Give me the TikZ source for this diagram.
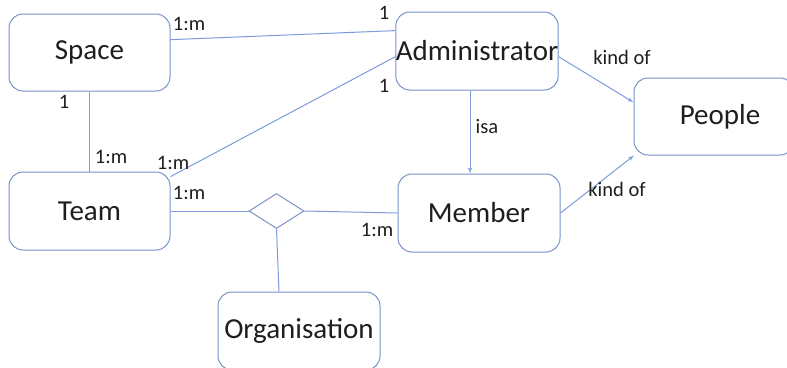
\documentclass[tikz,border=0pt]{standalone}
\usepackage{fontspec}
\setmainfont{Carlito}
\usepackage{xcolor}
\usepackage{tikz}
\usetikzlibrary{arrows}
\usetikzlibrary{shapes.geometric}
\definecolor{boxblue}{RGB}{122,146,201}
\definecolor{lineblue}{RGB}{125,155,220}
\definecolor{inktext}{RGB}{30,30,30}
\tikzset{arrowed/.style = {->,> = latex'}}

\begin{document}
\begin{tikzpicture}[x=1pt,y=-1pt,line width=1pt,
    entity/.style={rectangle,rounded corners=14pt,draw=boxblue,minimum width=161pt,minimum height=77pt,
        text=inktext,font=\fontsize{29}{34}\selectfont,inner sep=0pt},
    relation/.style={diamond,draw=boxblue,minimum width=55pt,minimum height=35pt,aspect=1.6,inner sep=0pt},
    tag/.style={text=inktext,font=\fontsize{20.5}{24}\selectfont,inner sep=0pt},
    link/.style={draw=lineblue}]
                \useasboundingbox (0,0) rectangle (787,367);

                % entities
                \node[entity] (space) at (89.5,52.5) {Space};
                \node[entity,minimum width=162pt,minimum height=78pt] (admin) at (477,51) {Administrator};
                \node[entity,minimum width=160pt] (people) at (714,116.5) {\hspace*{12pt}People};
                \node[entity,minimum height=78pt] (team) at (89.5,211) {Team};
                \node[entity,minimum width=162pt,minimum height=78pt] (member) at (479,213) {Member};
                \node[entity,minimum width=162pt,minimum height=78pt] (org) at (299,331) {\raisebox{5pt}{Organisation}};
                \node[relation] (rel) at (276.5,211) {};

                % connectors
                \draw[link] (space.9.5) -- (admin.166);
                \draw[link] (admin.184) -- (team.23);
                \draw[link] (space.south) -- (team.north);
                \draw[link] (team.east) -- (rel.west);
                \draw[link] (rel.east) -- (member.west);
                \draw[link] (rel.south) -- ([xshift=-20pt]org.north);
                \draw[link,arrowed] ([xshift=-7pt]admin.south) -- ([xshift=-9pt]member.north);
                \draw[link,arrowed] (admin.-4) -- (people.170);
                \draw[link,arrowed] (member.east) -- (people.206);

                % cardinalities
                \node[tag] (c1) at (189,24) {1:m};
                \node[tag] (c2) at (384,13) {1};
                \node[tag] (c3) at (64,102) {1};
                \node[tag] (c4) at (384,86) {1};
                \node[tag] (c5) at (111,157) {1:m};
                \node[tag] (c6) at (173,163) {1:m};
                \node[tag] (c7) at (189,193) {1:m};
                \node[tag] (c8) at (377,230) {1:m};
                \node[tag] (isa) at (487,127) {isa};
                \node[tag] (kind1) at (622,57) {kind of};
                \node[tag] (kind2) at (617,189) {kind of};
            \end{tikzpicture}
\end{document}
